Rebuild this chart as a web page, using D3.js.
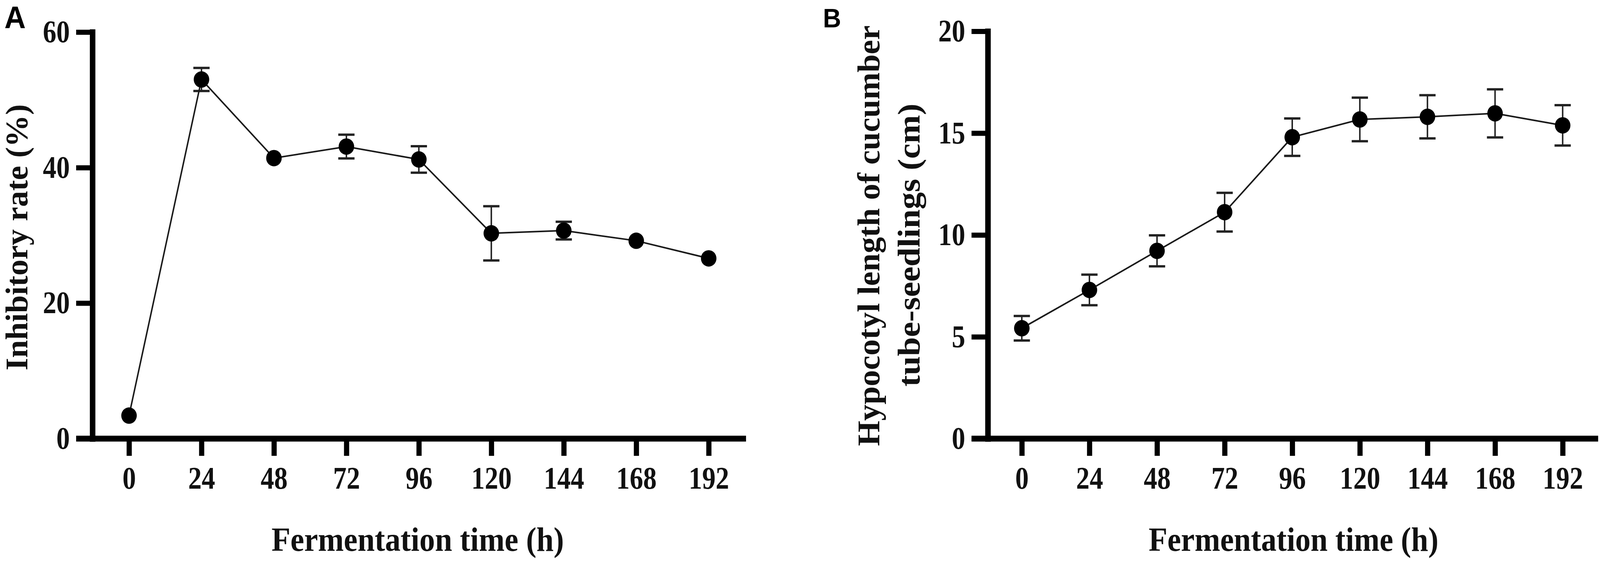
<!DOCTYPE html>
<html lang="en">
<head>
  <meta charset="UTF-8" />
  <title>Fermentation time course</title>
  <style>
    html, body {
      margin: 0;
      padding: 0;
      overflow: hidden;
      background: #fff;
    }
    svg {
      display: block;
      width: 100vw;
      height: 100vh;
    }
    .tick text, .title {
      font-family: "Liberation Serif", "Times New Roman", serif;
      font-weight: bold;
      fill: #111;
    }
    .panel-label {
      font-family: "Liberation Sans", Arial, sans-serif;
      font-weight: bold;
      fill: #000;
    }
  </style>
</head>
<body>
  <svg viewBox="0 0 4328 1435" preserveAspectRatio="none"></svg>

  <script src="https://cdnjs.cloudflare.com/ajax/libs/d3/7.8.5/d3.min.js"></script>
  <script>
    // Data
    const hours = [0, 24, 48, 72, 96, 120, 144, 168, 192];

    // Panel A: inhibitory rate (%)
    const inhibMean = [3.4, 53.0, 41.4, 43.1, 41.2, 30.3, 30.7, 29.2, 26.6];
    const inhibErr  = [0.4, 1.7, 0.4, 1.75, 1.95, 4.0, 1.3, 0.4, 0.4];
    const inhibTicks = [0, 20, 40, 60];

    // Panel B: hypocotyl length (cm)
    const hypoMean = [5.42, 7.3, 9.22, 11.12, 14.8, 15.67, 15.8, 15.97, 15.38];
    const hypoErr  = [0.6, 0.75, 0.76, 0.95, 0.92, 1.07, 1.06, 1.18, 0.99];
    const hypoTicks = [0, 5, 10, 15, 20];

    const svg = d3.select("svg");

    const tickFont = 80;
    const digitW = 36.5;   // the figure's type is a little condensed
    const titleFont = 86;
    const tickLen = 44;
    const r = 21;

    function condense(sel) {
      sel.attr("textLength", function() { return this.textContent.length * digitW; })
        .attr("lengthAdjust", "spacingAndGlyphs");
    }

    function drawPanel(opt) {
      const g = svg.append("g");

      const x = d3.scaleLinear().domain([0, 192]).range(opt.xRange);
      const y = d3.scaleLinear().domain(opt.yDomain).range([1122, opt.yTop]);

      // y axis
      const yAxis = g.append("g")
        .attr("transform", `translate(${opt.axisX},0)`)
        .call(d3.axisLeft(y)
          .tickValues(opt.yTicks)
          .tickSize(tickLen)
          .tickSizeOuter(0)
          .tickPadding(17));
      yAxis.select(".domain")
        .attr("stroke", "#000")
        .attr("stroke-width", 15)
        .attr("stroke-linecap", "square");
      yAxis.selectAll(".tick line")
        .attr("stroke", "#000")
        .attr("stroke-width", 13);
      yAxis.selectAll(".tick text")
        .attr("font-size", tickFont)
        .call(condense);

      // x axis
      const xAxis = g.append("g")
        .attr("transform", `translate(0,${y(0)})`)
        .call(d3.axisBottom(x)
          .tickValues(hours)
          .tickSize(tickLen)
          .tickSizeOuter(0)
          .tickPadding(27));
      xAxis.select(".domain").remove();
      xAxis.append("line")
        .attr("x1", opt.axisX - tickLen)
        .attr("x2", opt.xEnd)
        .attr("stroke", "#000")
        .attr("stroke-width", 15);
      xAxis.selectAll(".tick line")
        .attr("stroke", "#000")
        .attr("stroke-width", 14);
      xAxis.selectAll(".tick text")
        .attr("font-size", tickFont)
        .call(condense);

      const pts = hours.map((h, i) => ({ h, m: opt.mean[i], e: opt.err[i] }));

      // error bars (hidden when inside the symbol)
      const bars = g.append("g")
        .attr("stroke", "#222")
        .attr("stroke-width", 4)
        .selectAll("g")
        .data(pts.filter(d => y(d.m) - y(d.m + d.e) > r))
        .join("g");
      bars.append("line")
        .attr("x1", d => x(d.h)).attr("x2", d => x(d.h))
        .attr("y1", d => y(d.m + d.e)).attr("y2", d => y(d.m - d.e));
      bars.append("line")
        .attr("x1", d => x(d.h) - 22).attr("x2", d => x(d.h) + 22)
        .attr("y1", d => y(d.m + d.e)).attr("y2", d => y(d.m + d.e))
        .attr("stroke-width", 6);
      bars.append("line")
        .attr("x1", d => x(d.h) - 22).attr("x2", d => x(d.h) + 22)
        .attr("y1", d => y(d.m - d.e)).attr("y2", d => y(d.m - d.e))
        .attr("stroke-width", 6);

      // connecting line
      g.append("path")
        .datum(pts)
        .attr("fill", "none")
        .attr("stroke", "#1a1a1a")
        .attr("stroke-width", 4)
        .attr("d", d3.line().x(d => x(d.h)).y(d => y(d.m)));

      // markers
      g.append("g")
        .selectAll("circle")
        .data(pts)
        .join("circle")
        .attr("cx", d => x(d.h))
        .attr("cy", d => y(d.m))
        .attr("r", r)
        .attr("fill", "#000");

      // x title
      g.append("text")
        .attr("class", "title")
        .attr("x", opt.xTitleX)
        .attr("y", 1409)
        .attr("text-anchor", "middle")
        .attr("font-size", titleFont)
        .attr("textLength", opt.xTitleLen)
        .attr("lengthAdjust", "spacingAndGlyphs")
        .text("Fermentation time (h)");

      // y title (one or two lines)
      opt.yTitle.forEach((t, i) => {
        g.append("text")
          .attr("class", "title")
          .attr("transform", `translate(${t.x},${t.y}) rotate(-90)`)
          .attr("text-anchor", "middle")
          .attr("font-size", titleFont)
          .attr("textLength", t.len)
          .attr("lengthAdjust", "spacingAndGlyphs")
          .text(t.text);
      });

      // panel letter
      g.append("text")
        .attr("class", "panel-label")
        .attr("x", opt.label.x)
        .attr("y", opt.label.y)
        .attr("font-size", opt.label.size)
        .text(opt.label.text);
    }

    drawPanel({
      xRange: [349, 1917],
      xEnd: 2018,
      axisX: 250,
      yDomain: [0, 60],
      yTop: 82,
      yTicks: inhibTicks,
      mean: inhibMean,
      err: inhibErr,
      xTitleX: 1130,
      xTitleLen: 791,
      yTitle: [{ text: "Inhibitory rate (%)", x: 74, y: 607, len: 681 }],
      label: { text: "A", x: 12, y: 72, size: 80 }
    });

    drawPanel({
      xRange: [2764, 4227],
      xEnd: 4323,
      axisX: 2672,
      yDomain: [0, 20],
      yTop: 80,
      yTicks: hypoTicks,
      mean: hypoMean,
      err: hypoErr,
      xTitleX: 3499,
      xTitleLen: 784,
      yTitle: [
        { text: "Hypocotyl length of cucumber", x: 2379, y: 603, len: 1076 },
        { text: "tube-seedlings (cm)", x: 2487, y: 627, len: 724 }
      ],
      label: { text: "B", x: 2226, y: 70, size: 68 }
    });
  </script>
</body>
</html>
